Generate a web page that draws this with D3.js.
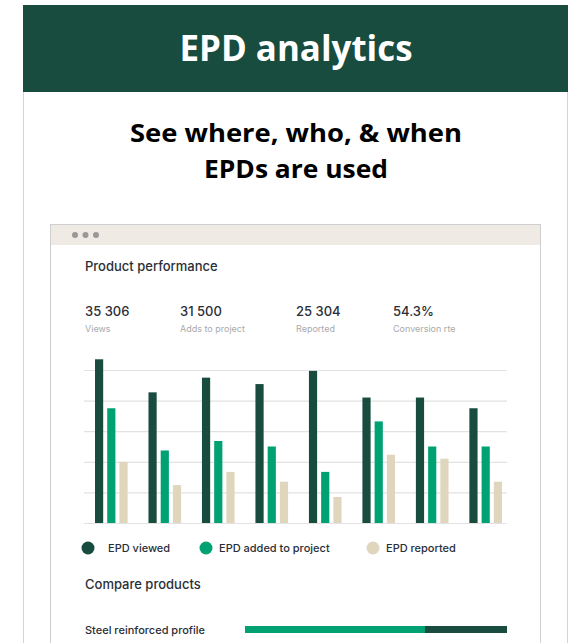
<!DOCTYPE html>
<html>
<head>
<meta charset="utf-8">
<script src="https://cdn.jsdelivr.net/npm/d3@7"></script>
<style>
  html, body { margin: 0; padding: 0; background: #fff; }
  svg { display: block; }
</style>
</head>
<body>
<div id="chart"></div>
<script>
// data
const groups = ["P1", "P2", "P3", "P4", "P5", "P6", "P7", "P8"];
const seriesNames = ["EPD viewed", "EPD added to project", "EPD reported"];
const viewed = [5350, 4270, 4750, 4540, 4970, 4100, 4100, 3750];
const added = [3750, 2370, 2680, 2500, 1670, 3320, 2500, 2500];
const reported = [2000, 1240, 1670, 1350, 850, 2230, 2100, 1350];
const statValues = ["35 306", "31 500", "25 304", "54.3%"];
const statLabels = ["Views", "Adds to project", "Reported", "Conversion rte"];
const compareProducts = ["Steel reinforced profile"];
const compareAdded = [68.7];
const compareRest = [31.3];

const colors = { "EPD viewed": "#174c3f", "EPD added to project": "#00a274", "EPD reported": "#e0d6bd" };
const width = 572, height = 643;
const uiFont = "Inter, 'Noto Sans', sans-serif";

const svg = d3.select("#chart").append("svg").attr("width", width).attr("height", height);

// 1. Slide frame
svg.append("rect").attr("x", 23).attr("y", 5).attr("width", 545).attr("height", 87).attr("fill", "#174c3f");
svg.append("text").attr("x", 296).attr("y", 61).attr("text-anchor", "middle")
    .attr("font-family", "'Open Sans', sans-serif").attr("font-weight", 700).attr("font-size", 35)
    .attr("textLength", 233).attr("lengthAdjust", "spacingAndGlyphs")
    .attr("fill", "#fff").text("EPD analytics");
[23.5, 567.5].forEach(x => {
    svg.append("line").attr("x1", x).attr("x2", x).attr("y1", 92).attr("y2", height)
        .attr("stroke", "#d4d4d4").attr("stroke-width", 1);
});
const sub = [["See where, who, & when", 142, 332], ["EPDs are used", 178, 184]];
sub.forEach(([t, y, w]) => {
    svg.append("text").attr("x", 296).attr("y", y).attr("text-anchor", "middle")
        .attr("font-family", "'Open Sans', sans-serif").attr("font-weight", 700).attr("font-size", 25)
        .attr("textLength", w).attr("lengthAdjust", "spacingAndGlyphs")
        .attr("fill", "#000").text(t);
});

// 2. Window mockup
svg.append("rect").attr("x", 50.5).attr("y", 224.5).attr("width", 490).attr("height", 430)
    .attr("fill", "#fff").attr("stroke", "#cfcfcf");
svg.append("rect").attr("x", 51).attr("y", 225).attr("width", 489).attr("height", 20).attr("fill", "#efebe4");
[75, 85.5, 96].forEach(cx => {
    svg.append("circle").attr("cx", cx).attr("cy", 235).attr("r", 3).attr("fill", "#9a9896");
});

svg.append("text").attr("x", 85).attr("y", 271).attr("font-family", uiFont).attr("font-size", 13)
    .attr("font-weight", 500).attr("fill", "#2a2e37").text("Product performance");

const statX = [85, 180, 296, 393];
statValues.forEach((v, i) => {
    svg.append("text").attr("x", statX[i]).attr("y", 316).attr("font-family", uiFont).attr("font-size", 13)
        .attr("font-weight", 500).attr("fill", "#2a2e37").text(v);
    svg.append("text").attr("x", statX[i]).attr("y", 332).attr("font-family", uiFont).attr("font-size", 9)
        .attr("fill", "#aaaaaa").text(statLabels[i]);
});

// 3. Grouped bars
const x0 = d3.scaleBand().domain(groups).range([95, 502]).paddingInner(0.39);
const x1 = d3.scaleBand().domain(seriesNames).range([0, x0.bandwidth()]).paddingInner(0.33);
const y = d3.scaleLinear().domain([0, 5000]).range([523, 370]);

const grid = svg.append("g").attr("transform", "translate(84,0)")
    .call(d3.axisLeft(y).ticks(5).tickSize(-423).tickFormat(""));
grid.select(".domain").remove();
grid.selectAll(".tick line").attr("stroke", "#e2e2e2").attr("stroke-width", 1.2);

const rows = groups.map((g, i) => ({ g, vals: [viewed[i], added[i], reported[i]] }));
svg.append("g").selectAll("g").data(rows).join("g")
    .attr("transform", d => `translate(${x0(d.g)},0)`)
    .selectAll("rect").data(d => d.vals.map((v, j) => ({ key: seriesNames[j], v })))
    .join("rect")
    .attr("x", d => x1(d.key))
    .attr("y", d => y(d.v))
    .attr("width", x1.bandwidth())
    .attr("height", d => y(0) - y(d.v))
    .attr("fill", d => colors[d.key]);

// 4. Legend
const legendX = [88, 206, 373];
const legendTextX = [108, 219, 386];
seriesNames.forEach((s, i) => {
    svg.append("circle").attr("cx", legendX[i]).attr("cy", 548).attr("r", 6.5).attr("fill", colors[s]);
    svg.append("text").attr("x", legendTextX[i]).attr("y", 552).attr("font-family", uiFont)
        .attr("font-size", 11).attr("font-weight", 500).attr("fill", "#2a2e37").text(s);
});

// 5. Compare products
svg.append("text").attr("x", 85).attr("y", 589).attr("font-family", uiFont).attr("font-size", 13)
    .attr("font-weight", 500).attr("fill", "#2a2e37").text("Compare products");

const xc = d3.scaleLinear().domain([0, 100]).range([245, 507]);
compareProducts.forEach((p, i) => {
    const yy = 626 + i * 30;
    svg.append("text").attr("x", 85).attr("y", yy + 8).attr("font-family", uiFont).attr("font-size", 11)
        .attr("font-weight", 500).attr("fill", "#2a2e37").text(p);
    svg.append("rect").attr("x", xc(0)).attr("y", yy).attr("width", xc(compareAdded[i]) - xc(0))
        .attr("height", 7).attr("fill", colors["EPD added to project"]);
    svg.append("rect").attr("x", xc(compareAdded[i])).attr("y", yy)
        .attr("width", xc(compareAdded[i] + compareRest[i]) - xc(compareAdded[i]))
        .attr("height", 7).attr("fill", colors["EPD viewed"]);
});
</script>
</body>
</html>
